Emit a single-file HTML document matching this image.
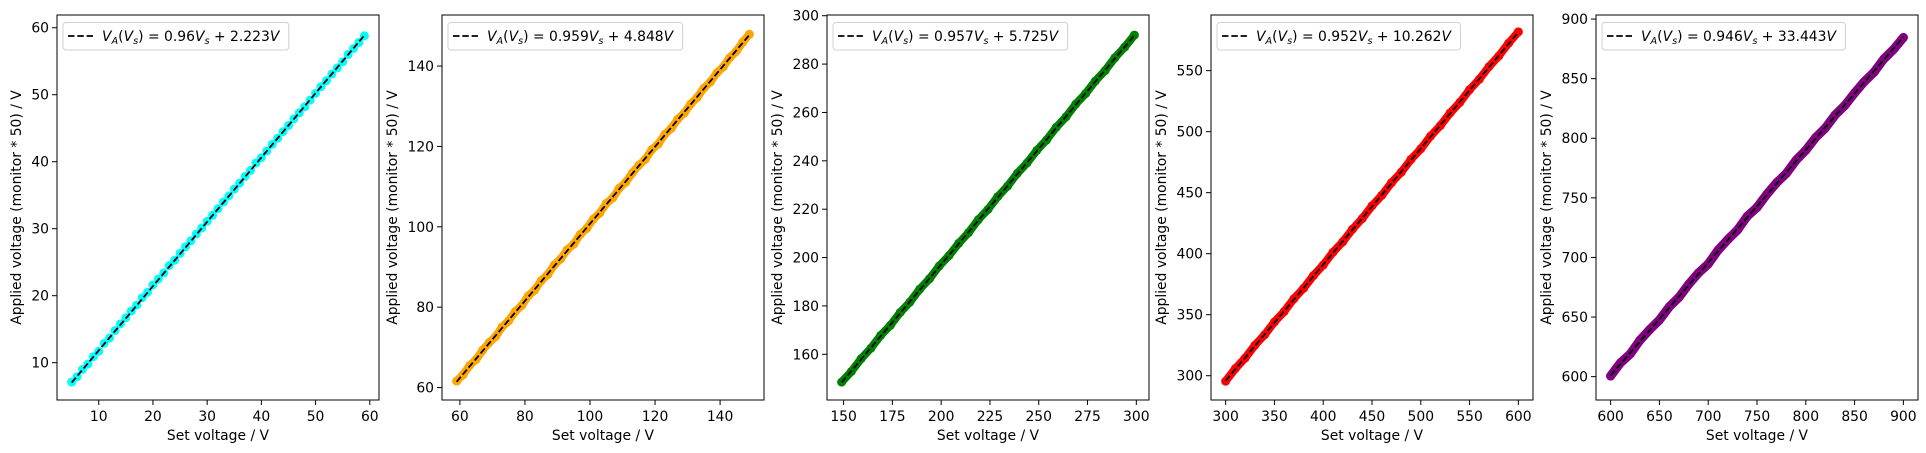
<!DOCTYPE html>
<html><head><meta charset="utf-8"><style>
html,body{margin:0;padding:0;background:#fff}
svg{display:block;font-family:"DejaVu Sans","Liberation Sans",sans-serif}
</style></head><body>
<svg id="fig" width="1926" height="453" viewBox="0 0 1926 453" xmlns="http://www.w3.org/2000/svg"></svg>
<script>
// ---- data ----
const x1 = [5,6,7,8,9,10,11,12,13,14,15,16,17,18,19,20,21,22,23,24,25,26,27,28,29,30,31,32,33,34,35,36,37,38,39,40,41,42,43,44,45,46,47,48,49,50,51,52,53,54,55,56,57,58,59];
const y1 = [7.1,7.9,9.0,9.8,10.9,11.7,12.9,13.7,14.8,15.8,16.7,17.7,18.6,19.7,20.5,21.6,22.5,23.4,24.5,25.3,26.3,27.3,28.2,29.2,30.1,31.1,32.0,33.0,34.0,34.9,35.9,36.8,37.8,38.7,39.8,40.6,41.6,42.6,43.5,44.5,45.4,46.4,47.3,48.2,49.2,50.2,51.2,52.1,53.1,54.0,54.9,56.0,56.9,57.8,58.8];
const x2 = [59,61,63,65,67,69,71,73,75,77,79,81,83,85,87,89,91,93,95,97,99,101,103,105,107,109,111,113,115,117,119,121,123,125,127,129,131,133,135,137,139,141,143,145,147,149];
const y2 = [61.6,63.2,65.5,67.0,69.3,71.2,72.7,75.1,76.6,78.9,80.4,82.8,84.3,86.6,88.1,90.5,92.0,94.3,95.7,98.1,99.6,101.9,103.4,105.8,107.2,109.6,111.1,113.4,115.3,116.8,119.2,120.6,123.0,124.5,126.8,128.3,130.6,132.2,134.5,136.0,138.3,139.8,142.1,143.7,146.0,147.9];
const x3 = [149,154,159,164,169,174,179,184,189,194,199,204,209,214,219,224,229,234,239,244,249,254,259,264,269,274,279,284,289,294,299];
const y3 = [148.5,152.9,158.2,162.5,167.8,172.0,177.3,181.6,186.9,191.2,196.5,200.8,205.9,210.3,215.6,219.9,225.2,229.5,234.8,239.1,244.3,248.6,253.9,258.2,263.5,267.8,273.0,277.3,282.6,287.0,292.0];
const x4 = [300,310,320,330,340,350,360,370,380,390,400,410,420,430,440,450,460,470,480,490,500,510,520,530,540,550,560,570,580,590,600];
const y4 = [295.5,305.9,314.5,325.0,333.6,344.0,352.6,363.1,371.7,382.1,390.7,401.2,409.7,420.1,428.8,439.2,447.8,458.2,466.8,477.3,485.9,496.3,504.9,515.3,523.9,534.4,542.9,553.4,562.0,572.5,581.8];
const x5 = [600,610,620,630,640,650,660,670,680,690,700,710,720,730,740,750,760,770,780,790,800,810,820,830,840,850,860,870,880,890,900];
const y5 = [600.5,611.5,619.0,630.5,639.5,647.5,658.5,666.5,677.5,687.0,694.5,706.0,715.0,723.0,734.5,742.0,753.0,762.5,770.5,781.5,790.0,800.5,808.5,819.5,827.5,838.0,847.5,855.5,866.5,874.5,884.5];
const slopes = [0.96,0.959,0.957,0.952,0.946];
const intercepts = [2.223,4.848,5.725,10.262,33.443];
const xTicks = [[10,20,30,40,50,60],[60,80,100,120,140],[150,175,200,225,250,275,300],[300,350,400,450,500,550,600],[600,650,700,750,800,850,900]];
const yTicks = [[10,20,30,40,50,60],[60,80,100,120,140],[160,180,200,220,240,260,280,300],[300,350,400,450,500,550],[600,650,700,750,800,850,900]];
const xLims = [[2.3,61.7],[54.5,153.5],[141.5,306.5],[285,615],[585,915]];
const yLims = [[4.43,61.9],[56.9,152.7],[141.1,300.3],[280.1,595.6],[580.4,903.4]];
const colors = ['#00ffff','#ffa500','#008000','#ff0000','#800080'];
const xs = [x1,x2,x3,x4,x5], ys = [y1,y2,y3,y4,y5];
const lefts = [57,442,827,1211,1596];
const W = 322, TOP = 15, BOT = 400;
const NS = 'http://www.w3.org/2000/svg';
const svg = document.getElementById('fig');
function mk(tag, attrs, parent){const e=document.createElementNS(NS,tag);for(const k in attrs)e.setAttribute(k,attrs[k]);(parent||svg).appendChild(e);return e;}
for(let p=0;p<5;p++){
  const L=lefts[p], xl=xLims[p], yl=yLims[p];
  const sx=v=>L+(v-xl[0])/(xl[1]-xl[0])*W;
  const sy=v=>BOT-(v-yl[0])/(yl[1]-yl[0])*(BOT-TOP);
  const g=mk('g',{});
  
  
  const sg=mk('g',{},g);
  
  
  if(p>0){
    const pts=xs[p].map((v,i)=>sx(v).toFixed(1)+','+sy(ys[p][i]).toFixed(1)).join(' ');
    const pl=mk('polyline',{points:pts,fill:'none',stroke:colors[p],'stroke-width':p===4?9:8,'stroke-linecap':'round','stroke-linejoin':'round'},sg);
    
    
  }
  xs[p].forEach((v,i)=>{
    const c=mk('circle',{cx:sx(v),cy:sy(ys[p][i]),r:4.5,fill:colors[p]},sg);
    
    
  });
  const x0=xs[p][0], x9=xs[p][xs[p].length-1];
  const fl=mk('line',{x1:sx(x0),y1:sy(slopes[p]*x0+intercepts[p]),x2:sx(x9),y2:sy(slopes[p]*x9+intercepts[p]),stroke:'#000','stroke-width':1.8,'stroke-dasharray':'6.5,2.8'},g);
  
  
  const fr=mk('rect',{x:L,y:TOP,width:W,height:BOT-TOP,fill:'none',stroke:'#000','stroke-width':1},g);
  
  
  xTicks[p].forEach(t=>{
    const X=sx(t);
    const tl=mk('line',{x1:X,y1:BOT,x2:X,y2:BOT+5,stroke:'#000','stroke-width':1},g);
    
    
    const tx=mk('text',{x:X,y:421,'text-anchor':'middle','font-size':13.9,fill:'#000'},g);
    tx.textContent=t;
    
    
  });
  yTicks[p].forEach(t=>{
    const Y=sy(t);
    const tl=mk('line',{x1:L-5,y1:Y,x2:L,y2:Y,stroke:'#000','stroke-width':1},g);
    
    
    const tx=mk('text',{x:L-8,y:Y+5,'text-anchor':'end','font-size':13.9,fill:'#000'},g);
    tx.textContent=t;
    
    
  });
  const xt=mk('text',{x:L+W/2,y:440,'text-anchor':'middle','font-size':13.9,fill:'#000'},g);
  xt.textContent='Set voltage / V';
  
  
  const off=(p===0)?41:50;
  const yt=mk('text',{x:0,y:0,'text-anchor':'middle','font-size':13.9,fill:'#000',transform:`translate(${L-off+5},${(TOP+BOT)/2}) rotate(-90)`},g);
  yt.textContent='Applied voltage (monitor * 50) / V';
  
  
  const lg=mk('g',{},g);
  
  
  const box=mk('rect',{x:L+6,y:22.5,width:200,height:27.5,rx:3,fill:'#fff','fill-opacity':0.8,stroke:'#d0d0d0','stroke-width':1},lg);
  
  
  const ls=mk('line',{x1:L+11,y1:36,x2:L+36,y2:36,stroke:'#000','stroke-width':1.8,'stroke-dasharray':'6.5,2.8'},lg);
  
  
  const txt=mk('text',{x:L+45,y:41,'font-size':13.9,fill:'#000'},lg);
  
  
  const parts=[['V','i',0],['A','i',1],['(','n',0],['V','i',0],['s','i',1],[') = '+slopes[p]+'','n',0],['V','i',0],['s','i',1],[' + '+intercepts[p],'n',0],['V','i',0]];
  let sub=false;
  parts.forEach(([s,st,isSub])=>{
    const ts=mk('tspan',{},txt);
    if(st==='i')ts.setAttribute('font-style','italic');
    if(isSub){ts.setAttribute('font-size','9.7');ts.setAttribute('dy','3');sub=true;}
    else if(sub){ts.setAttribute('dy','-3');sub=false;}
    ts.textContent=s;
  });
  const bb=txt.getBBox();
  box.setAttribute('width',(bb.x+bb.width+8)-(L+6));
}
</script>
</body></html>
